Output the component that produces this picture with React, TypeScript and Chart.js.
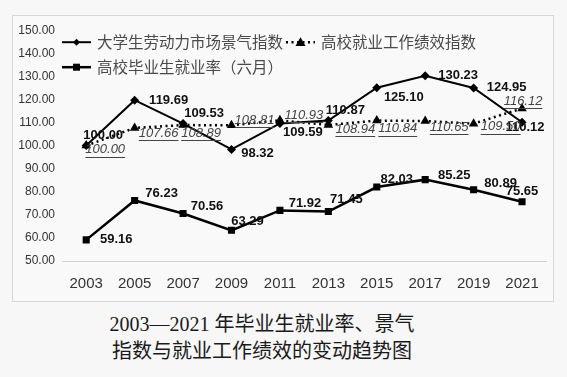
import React, { useEffect, useRef } from "react";
import { Chart, registerables } from "chart.js";

Chart.register(...registerables);

const years = ["2003", "2005", "2007", "2009", "2011", "2013", "2015", "2017", "2019", "2021"];
const marketIndex = [100.0, 119.69, 109.53, 98.32, 109.59, 110.87, 125.1, 130.23, 124.95, 110.12];
const workIndex = [100.0, 107.66, 108.89, 108.81, 110.93, 108.94, 110.84, 110.65, 109.5, 116.12];
const employmentRate = [59.16, 76.23, 70.56, 63.29, 71.92, 71.45, 82.03, 85.25, 80.89, 75.65];
const seriesNames = ["大学生劳动力市场景气指数", "高校就业工作绩效指数", "高校毕业生就业率（六月）"];
const yMin = 50;
const yMax = 150;
const yStep = 10;
const captionLines = ["2003—2021 年毕业生就业率、景气", "指数与就业工作绩效的变动趋势图"];

// label placement hints (offset from point, in px)
const marketLabelOffsets = [[17, -10], [34, 0], [21, -10], [26, 4], [23, 9], [17, -10], [27, 10], [33, 0], [33, -1], [3, 5]];
const workLabelOffsets = [[19, 4], [24, 5], [18, 8], [23, -5], [24, -5], [27, 4], [21, 8], [24, 6], [27, 3], [1, -7]];
const rateLabelOffsets = [[30, 0], [27, -7], [24, -7], [16, -9], [25, -7], [18, -12], [20, -8], [29, -4], [27, -6], [0, -10]];

const labelPlugin = {
  id: "valueLabels",
  afterDatasetsDraw(chart: any) {
    const ctx = chart.ctx;
    const cfgs = [
      { offs: marketLabelOffsets, font: "bold 13px 'Liberation Sans', Arial, sans-serif", color: "#111", underline: false },
      { offs: workLabelOffsets, font: "italic 13px 'Liberation Sans', Arial, sans-serif", color: "#444", underline: true },
      { offs: rateLabelOffsets, font: "bold 13px 'Liberation Sans', Arial, sans-serif", color: "#111", underline: false },
    ];
    chart.data.datasets.forEach((ds: any, i: number) => {
      const meta = chart.getDatasetMeta(i);
      const c = cfgs[i];
      ctx.save();
      ctx.font = c.font;
      ctx.fillStyle = c.color;
      ctx.strokeStyle = c.color;
      ctx.textAlign = "center";
      ctx.textBaseline = "middle";
      meta.data.forEach((el: any, j: number) => {
        const v = ds.data[j];
        const txt = v.toFixed(2);
        const [dx, dy] = c.offs[j];
        const x = el.x + dx;
        const y = el.y + dy;
        ctx.fillText(txt, x, y);
        if (c.underline) {
          const w = ctx.measureText(txt).width;
          ctx.lineWidth = 1;
          ctx.beginPath();
          ctx.moveTo(x - w / 2, Math.round(y + 7) + 0.5);
          ctx.lineTo(x + w / 2, Math.round(y + 7) + 0.5);
          ctx.stroke();
        }
      });
      ctx.restore();
    });
  },
};

function drawMarker(ctx: CanvasRenderingContext2D, style: string, x: number, y: number) {
  ctx.beginPath();
  if (style === "diamond") {
    const r = 3.5;
    ctx.moveTo(x, y - r);
    ctx.lineTo(x + r, y);
    ctx.lineTo(x, y + r);
    ctx.lineTo(x - r, y);
  } else if (style === "triangle") {
    const r = 5;
    ctx.moveTo(x, y - r);
    ctx.lineTo(x + r, y + r * 0.75);
    ctx.lineTo(x - r, y + r * 0.75);
  } else {
    const r = 3.5;
    ctx.rect(x - r, y - r, 2 * r, 2 * r);
  }
  ctx.closePath();
  ctx.fill();
}

const legendPlugin = {
  id: "innerLegend",
  afterDraw(chart: any) {
    const ctx = chart.ctx;
    const left = chart.chartArea.left;
    const top = chart.chartArea.top;
    const items = [
      { name: seriesNames[0], x: left, y: top + 12, style: "diamond", dash: [] as number[], w: 2 },
      { name: seriesNames[1], x: left + 224, y: top + 12, style: "triangle", dash: [2, 3.5], w: 2.5 },
      { name: seriesNames[2], x: left, y: top + 37, style: "square", dash: [] as number[], w: 2.5 },
    ];
    ctx.save();
    items.forEach((it) => {
      ctx.strokeStyle = "#000";
      ctx.fillStyle = "#000";
      ctx.lineWidth = it.w;
      ctx.setLineDash(it.dash);
      ctx.beginPath();
      ctx.moveTo(it.x, it.y);
      ctx.lineTo(it.x + 29, it.y);
      ctx.stroke();
      ctx.setLineDash([]);
      drawMarker(ctx, it.style, it.x + 14.5, it.y);
      ctx.font = "15.5px 'Noto Sans CJK SC', sans-serif";
      ctx.fillStyle = "#4a4a4a";
      ctx.textAlign = "left";
      ctx.textBaseline = "middle";
      ctx.fillText(it.name, it.x + 35, it.y);
    });
    ctx.restore();
  },
};

export default function App() {
  const ref = useRef<HTMLCanvasElement>(null);
  useEffect(() => {
    if (!ref.current) return;
    const chart = new Chart(ref.current, {
      type: "line",
      data: {
        labels: years,
        datasets: [
          {
            label: seriesNames[0],
            data: marketIndex,
            borderColor: "#000",
            backgroundColor: "#000",
            borderWidth: 2,
            pointStyle: "rectRot",
            pointRadius: 4.5,
            pointBorderWidth: 0,
            pointBackgroundColor: "#000",
          },
          {
            label: seriesNames[1],
            data: workIndex,
            borderColor: "#000",
            backgroundColor: "#000",
            borderWidth: 2.5,
            borderDash: [2, 3.5],
            pointStyle: "triangle",
            pointRadius: 5.5,
            pointBorderWidth: 0,
            pointBackgroundColor: "#000",
          },
          {
            label: seriesNames[2],
            data: employmentRate,
            borderColor: "#000",
            backgroundColor: "#000",
            borderWidth: 2.5,
            pointStyle: "rect",
            pointRadius: 5,
            pointBorderWidth: 0,
            pointBackgroundColor: "#000",
          },
        ],
      },
      options: {
        responsive: false,
        animation: false,
        devicePixelRatio: 1,
        layout: { padding: { top: 10, left: 0, right: 0, bottom: 0 } },
        plugins: { legend: { display: false }, tooltip: { enabled: false } },
        scales: {
          x: {
            type: "category",
            offset: true,
            grid: { display: false, drawTicks: false },
            border: { display: true, color: "#d0d0d0", width: 1 },
            ticks: { color: "#333", font: { size: 15, family: "'Liberation Sans', Arial, sans-serif" }, padding: 14, maxRotation: 0 },
            afterFit: (s: any) => { s.height = 40; },
          },
          y: {
            min: yMin,
            max: yMax,
            grid: { display: false, drawTicks: false },
            border: { display: false },
            ticks: {
              stepSize: yStep,
              color: "#333",
              font: { size: 12, family: "'Liberation Sans', Arial, sans-serif" },
              padding: 7,
              callback: (v: any) => Number(v).toFixed(2),
            },
            afterFit: (s: any) => { s.width = 49; },
          },
        },
      },
      plugins: [labelPlugin, legendPlugin],
    });
    return () => chart.destroy();
  }, []);

  return (
    <div style={{ position: "absolute", left: 0, top: 0, width: 567, height: 377, background: "#f7f7f7", overflow: "hidden" }}>
      <div style={{ position: "absolute", left: 12, top: 15, width: 540, height: 285, border: "1px solid #d6d6d6", background: "#f9f9f9" }}>
        <canvas ref={ref} width={540} height={285} style={{ display: "block" }} />
      </div>
      <div
        style={{
          position: "absolute",
          left: 0,
          top: 311,
          width: 524,
          textAlign: "center",
          fontFamily: "'Liberation Serif', 'Noto Sans CJK SC', serif",
          fontSize: 20,
          lineHeight: "27px",
          color: "#1a1a1a",
        }}
      >
        {captionLines.map((l, i) => (
          <div key={i}>{l}</div>
        ))}
      </div>
    </div>
  );
}
